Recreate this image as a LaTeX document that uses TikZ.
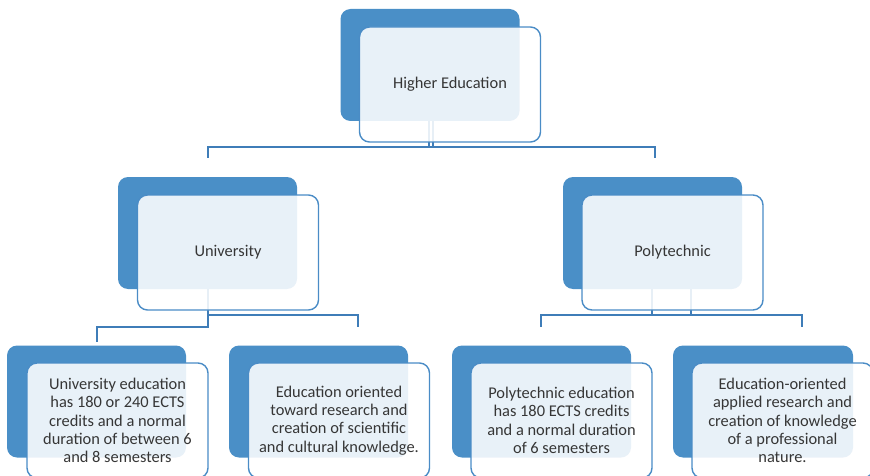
\documentclass[tikz,border=0pt]{standalone}
\usepackage{fontspec}
\setmainfont{Carlito}
\pgfdeclarelayer{bg}
\pgfsetlayers{bg,main}
\definecolor{boxblue}{HTML}{4A8FC7}
\definecolor{edgeblue}{HTML}{4A8CC6}
\definecolor{connblue}{HTML}{3F7DB8}
\definecolor{txt}{HTML}{363636}
\tikzset{
  backbox/.style={fill=boxblue, draw=none, rounded corners=10pt, minimum width=179pt, minimum height=112pt, inner sep=0pt, outer sep=0pt},
  frontbox/.style={fill=white, fill opacity=0.88, text opacity=1, draw=edgeblue, line width=1.4pt, rounded corners=10pt, minimum width=181pt, minimum height=115pt, inner sep=0pt, outer sep=0pt, align=center, text=txt, font=\fontsize{16.4}{18.3}\selectfont},
  conn/.style={draw=connblue, line width=1.5pt}
}
\begin{document}
\begin{tikzpicture}[x=1pt,y=-1pt]
\useasboundingbox (0,0) rectangle (870,476);
% back boxes
\node[backbox] (heB) at (430,65) {};
\node[backbox] (uB) at (207.5,233) {};
\node[backbox] (pB) at (652.5,233) {};
\node[backbox] (c1B) at (96.5,401.5) {};
\node[backbox] (c2B) at (318.5,401.5) {};
\node[backbox] (c3B) at (541.5,401.5) {};
\node[backbox, minimum width=180pt] (c4B) at (763,401.5) {};
% front boxes
\node[frontbox] (heF) at (450,84.5) {Higher Education};
\node[frontbox] (uF) at (228,252.5) {University};
\node[frontbox] (pF) at (672.5,252.5) {Polytechnic};
\node[frontbox] (c1F) at (117.5,420.5) {University education\\has 180 or 240 ECTS\\credits and a normal\\duration of between 6\\and 8 semesters};
\node[frontbox] (c2F) at (339,420.5) {Education oriented\\toward research and\\creation of scientific\\and cultural knowledge.};
\node[frontbox] (c3F) at (561.5,420.5) {Polytechnic education\\has 180 ECTS credits\\and a normal duration\\of 6 semesters};
\node[frontbox] (c4F) at (782.5,420.5) {Education-oriented\\applied research and\\creation of knowledge\\of a professional\\nature.};
% connector coordinates
\coordinate (heL) at (429,121);
\coordinate (heR) at (433,121);
\coordinate (heLc) at (208,147);
\coordinate (heRc) at (655,147);
\coordinate (heLt) at (208,158);
\coordinate (heRt) at (655,158);
\coordinate (uS) at (208,289);
\coordinate (uLc) at (97,327);
\coordinate (uLt) at (97,342);
\coordinate (uRc) at (358,315);
\coordinate (uRt) at (358,327);
\coordinate (pL) at (652,289);
\coordinate (pR) at (691,289);
\coordinate (pLc) at (541,315);
\coordinate (pLt) at (541,327);
\coordinate (pRc) at (802,315);
\coordinate (pRt) at (802,327);
\begin{pgfonlayer}{bg}
\draw[conn] (heR) |- (heLc) -- (heLt);
\draw[conn] (heL) |- (heRc) -- (heRt);
\draw[conn] (uS) |- (uLc) -- (uLt);
\draw[conn] (uS) |- (uRc) -- (uRt);
\draw[conn] (pR) |- (pLc) -- (pLt);
\draw[conn] (pL) |- (pRc) -- (pRt);
\end{pgfonlayer}
\end{tikzpicture}
\end{document}
